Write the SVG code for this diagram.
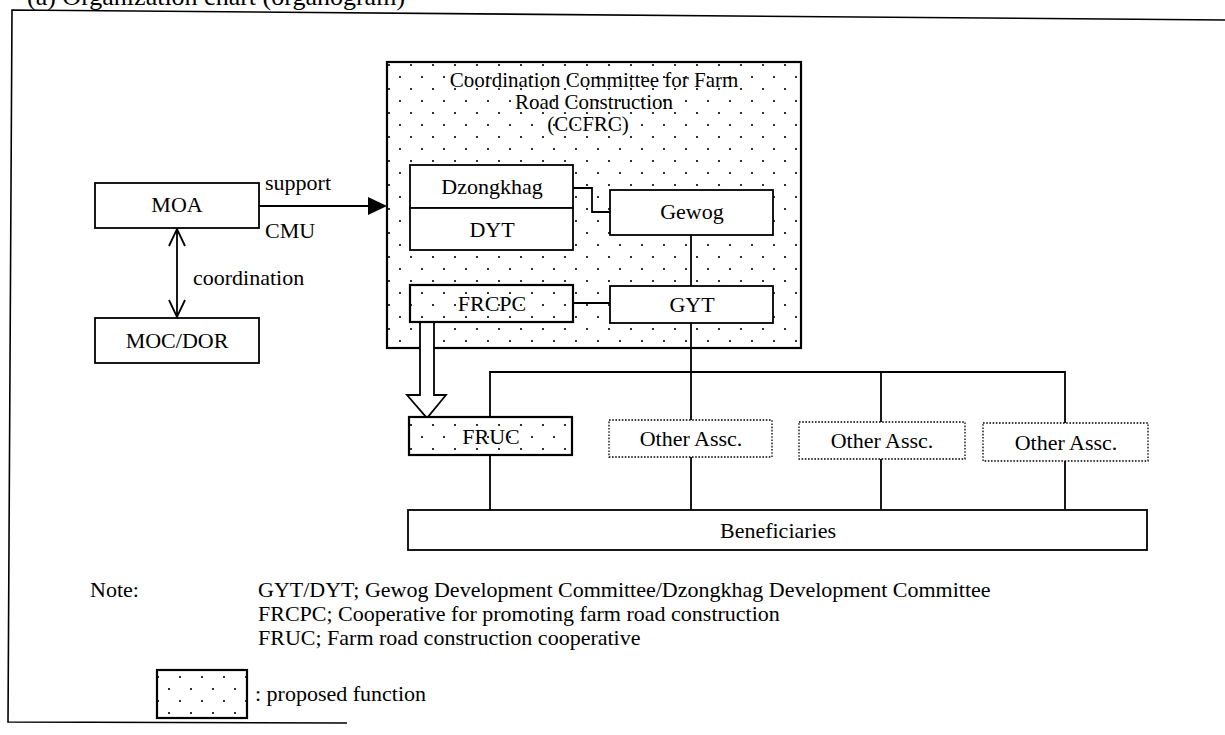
<svg xmlns="http://www.w3.org/2000/svg" width="1225" height="735" viewBox="0 0 1225 735" font-family="'Liberation Serif','Times New Roman',serif">
<style>
text{font-family:"Liberation Serif","Times New Roman",serif;fill:#000;font-size:22px}
.c{text-anchor:middle}
.t{font-size:21px}
.title{font-size:26px}
.box{fill:#fff;stroke:#000;stroke-width:1.8}
.dot{fill:url(#dots);stroke:#000;stroke-width:2.2}
.oth{fill:#fff;stroke:#000;stroke-width:1.3;stroke-dasharray:1.6 1.6}
.ln{fill:none;stroke:#000;stroke-width:1.8}
</style>
<defs>
<pattern id="dots" width="22" height="24" patternUnits="userSpaceOnUse">
<rect width="22" height="24" fill="#fff"/>
<circle cx="4" cy="5" r="1.1" fill="#000"/>
<circle cx="15" cy="17" r="1.1" fill="#000"/>
</pattern>
</defs>
<rect width="1225" height="735" fill="#fff"/>
<text class="title" x="27" y="5">(a) Organization chart (organogram)</text>
<path d="M1225,20 L12,10 L8,722 L347,723" fill="none" stroke="#000" stroke-width="1.6"/>

<g id="ccfrc">
<rect class="dot" x="387" y="62" width="414" height="286" stroke-width="2.6"/>
<text class="c t" x="594" y="87">Coordination Committee for Farm</text>
<text class="c t" x="594" y="109">Road Construction</text>
<text class="c t" x="588" y="131">(CCFRC)</text>
</g>

<g id="connectors">
<path class="ln" d="M259,206 H369"/>
<polygon points="368,197 387,206 368,215" fill="#000"/>
<path class="ln" d="M177,229 V317 M169,246 L177,229 L185,246 M169,300 L177,317 L185,300"/>
<path class="ln" d="M573,188 H592 V212 H610"/>
<path class="ln" d="M691,235 V286"/>
<path class="ln" d="M573,303 H610"/>
<path class="ln" d="M691,323 V420"/>
<path class="ln" d="M490,417 V372 H1065 V423 M881,372 V422"/>
<path class="ln" d="M490,455 V510 M691,457 V510 M881,459 V510 M1065,461 V510"/>
<polygon points="420,322 420,395 407,395 427,418 446,395 434,395 434,322" fill="#fff" stroke="#000" stroke-width="1.8"/>
</g>

<g id="moa">
<rect class="box" x="95" y="183" width="164" height="45"/>
<text class="c" x="177" y="212">MOA</text>
</g>
<text x="265" y="190">support</text>
<text x="265" y="238">CMU</text>
<text x="193" y="285">coordination</text>

<g id="mocdor">
<rect class="box" x="95" y="318" width="164" height="45"/>
<text class="c" x="177" y="348">MOC/DOR</text>
</g>

<g id="dzongkhag">
<rect class="box" x="410" y="165" width="163" height="43"/>
<text class="c" x="492" y="194">Dzongkhag</text>
</g>
<g id="dyt">
<rect class="box" x="410" y="208" width="163" height="42"/>
<text class="c" x="492" y="237">DYT</text>
</g>
<g id="gewog">
<rect class="box" x="610" y="190" width="163" height="45"/>
<text class="c" x="692" y="219">Gewog</text>
</g>
<g id="frcpc">
<rect class="dot" x="410" y="285" width="163" height="37" stroke-width="2"/>
<text class="c" x="492" y="311">FRCPC</text>
</g>
<g id="gyt">
<rect class="box" x="610" y="286" width="163" height="37"/>
<text class="c" x="692" y="312">GYT</text>
</g>
<g id="fruc">
<rect class="dot" x="409" y="417" width="163" height="38" stroke-width="2.6"/>
<text class="c" x="491" y="444">FRUC</text>
</g>
<g id="other1">
<rect class="oth" x="609" y="420" width="163" height="37"/>
<text class="c" x="691" y="446">Other Assc.</text>
</g>
<g id="other2">
<rect class="oth" x="799" y="422" width="166" height="37"/>
<text class="c" x="882" y="448">Other Assc.</text>
</g>
<g id="other3">
<rect class="oth" x="983" y="423" width="165" height="38"/>
<text class="c" x="1066" y="450">Other Assc.</text>
</g>
<g id="beneficiaries">
<rect class="box" x="408" y="510" width="739" height="40"/>
<text class="c" x="778" y="538">Beneficiaries</text>
</g>

<g id="notes">
<text x="90" y="597">Note:</text>
<text x="258" y="597">GYT/DYT; Gewog Development Committee/Dzongkhag Development Committee</text>
<text x="258" y="621">FRCPC; Cooperative for promoting farm road construction</text>
<text x="258" y="645">FRUC; Farm road construction cooperative</text>
</g>
<g id="legend">
<rect class="dot" x="157" y="670" width="90" height="48" stroke-width="2"/>
<text x="255" y="701">: proposed function</text>
</g>
</svg>
